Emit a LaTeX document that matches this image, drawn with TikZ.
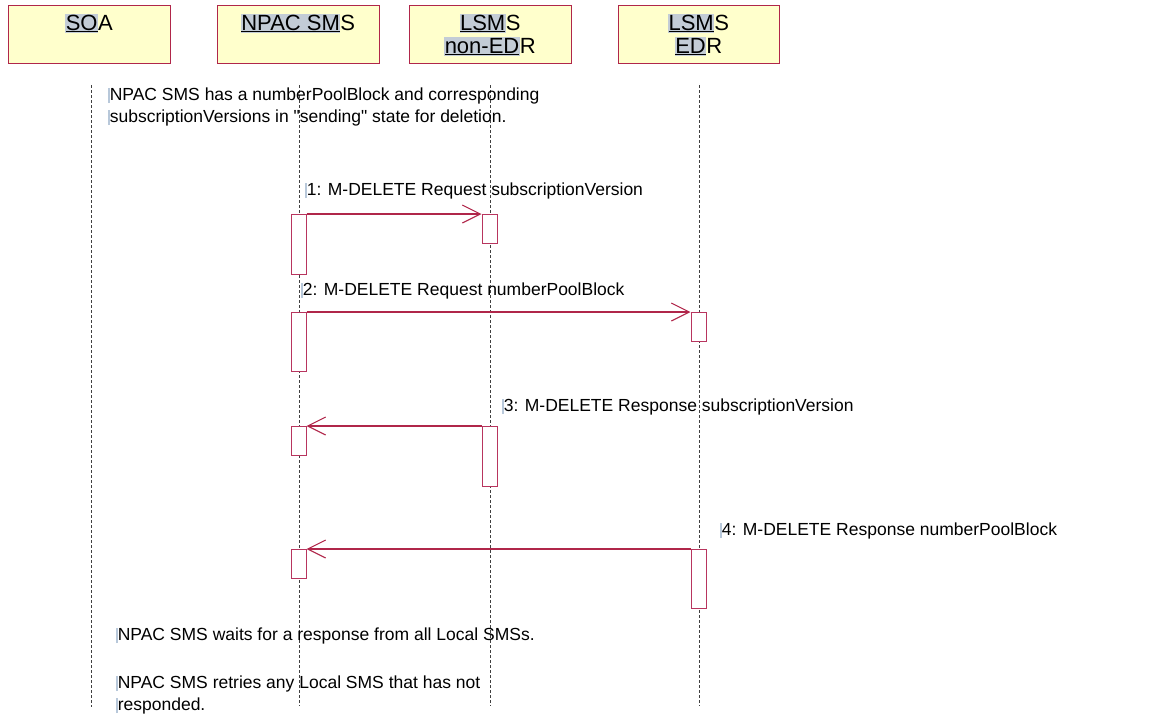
\documentclass[tikz,border=0pt]{standalone}
\usepackage{fontspec}
\setmainfont{Liberation Sans}[Ligatures=TeXOff]
\usetikzlibrary{arrows.meta}
\definecolor{boxfill}{HTML}{FFFFCC}
\definecolor{crim}{HTML}{B0264A}
\definecolor{actc}{HTML}{B8355E}
\definecolor{hlc}{HTML}{C3CCD6}
\definecolor{curs}{HTML}{B8C8DA}
\newcommand\hlt[1]{{\setlength\fboxsep{0.5pt}\colorbox{hlc}{\underline{#1}}}}
\newcommand\cur{\textcolor{curs}{\rule[-3pt]{1.6pt}{15pt}}}
\tikzset{
  actor/.style={draw=crim, fill=boxfill, line width=1pt, minimum width=162pt, minimum height=58pt, anchor=north west, inner sep=0pt},
  boxtxt/.style={font=\fontsize{22}{23}\selectfont, anchor=base, inner sep=0pt},
  lifeline/.style={draw=black!75, line width=0.7pt, dash pattern=on 3pt off 2pt},
  act/.style={draw=actc, fill=white, line width=1pt, minimum width=15pt, anchor=north, inner sep=0pt},
  msg/.style={draw=crim, line width=1.1pt, -{Straight Barb[length=18pt,width=18pt,line width=1.1pt]}},
  lbl/.style={font=\fontsize{17.5}{22}\selectfont, anchor=base west, inner sep=0pt, align=left},
}
\begin{document}
\begin{tikzpicture}[x=1pt,y=-1pt]
\useasboundingbox (0,0) rectangle (1149,723);
% actor boxes
\node[actor] (soa) at (8,5) {};
\node[actor] (npac) at (217,5) {};
\node[actor] (ne) at (409,5) {};
\node[actor, minimum width=161pt] (edr) at (618,5) {};
\node[boxtxt] (soat) at (89,30) {\hlt{SO}A};
\node[boxtxt] (npact) at (298,30) {\hlt{NPAC SM}S};
\node[boxtxt] (net1) at (490,30) {\hlt{LSM}S};
\node[boxtxt] (net2) at (490,53) {\hlt{non-ED}R};
\node[boxtxt] (edrt1) at (698.5,30) {\hlt{LSM}S};
\node[boxtxt] (edrt2) at (698.5,53) {\hlt{ED}R};
% lifelines
\coordinate (l1t) at (91,85);  \coordinate (l1b) at (91,707);
\coordinate (l2t) at (299,85); \coordinate (l2b) at (299,706);
\coordinate (l3t) at (490,85); \coordinate (l3b) at (490,706);
\coordinate (l4t) at (699,85); \coordinate (l4b) at (699,706);
\draw[lifeline] (l1t) -- (l1b);
\draw[lifeline] (l2t) -- (l2b);
\draw[lifeline] (l3t) -- (l3b);
\draw[lifeline] (l4t) -- (l4b);
% notes
\node[lbl] (n1) at (108,100) {\cur NPAC SMS has a numberPoolBlock and corresponding};
\node[lbl] (n2) at (108,122) {\cur subscriptionVersions in "sending" state for deletion.};
\node[lbl] (n3) at (116,640) {\cur NPAC SMS waits for a response from all Local SMSs.};
\node[lbl] (n4) at (116,688) {\cur NPAC SMS retries any Local SMS that has not};
\node[lbl] (n5) at (116,710) {\cur responded.};
% activations
\node[act, minimum height=60pt] (a1) at (298.5,214) {};
\node[act, minimum height=29pt] (b1) at (489.5,214) {};
\node[act, minimum height=59pt] (a2) at (298.5,312) {};
\node[act, minimum height=29pt] (c2) at (698.5,312) {};
\node[act, minimum height=60pt] (b3) at (489.5,426) {};
\node[act, minimum height=29pt] (a3) at (298.5,426) {};
\node[act, minimum height=59pt] (c4) at (698.5,549) {};
\node[act, minimum height=29pt] (a4) at (298.5,549) {};
% messages
\draw[msg] (a1.north east) -- (b1.north west);
\draw[msg] (a2.north east) -- (c2.north west);
\draw[msg] (b3.north west) -- (a3.north east);
\draw[msg] (c4.north west) -- (a4.north east);
\node[lbl] (m1) at (305,195) {\cur 1: M-DELETE Request subscriptionVersion};
\node[lbl] (m2) at (301,295) {\cur 2: M-DELETE Request numberPoolBlock};
\node[lbl] (m3) at (502,411) {\cur 3: M-DELETE Response subscriptionVersion};
\node[lbl] (m4) at (720,535) {\cur 4: M-DELETE Response numberPoolBlock};
\end{tikzpicture}
\end{document}
